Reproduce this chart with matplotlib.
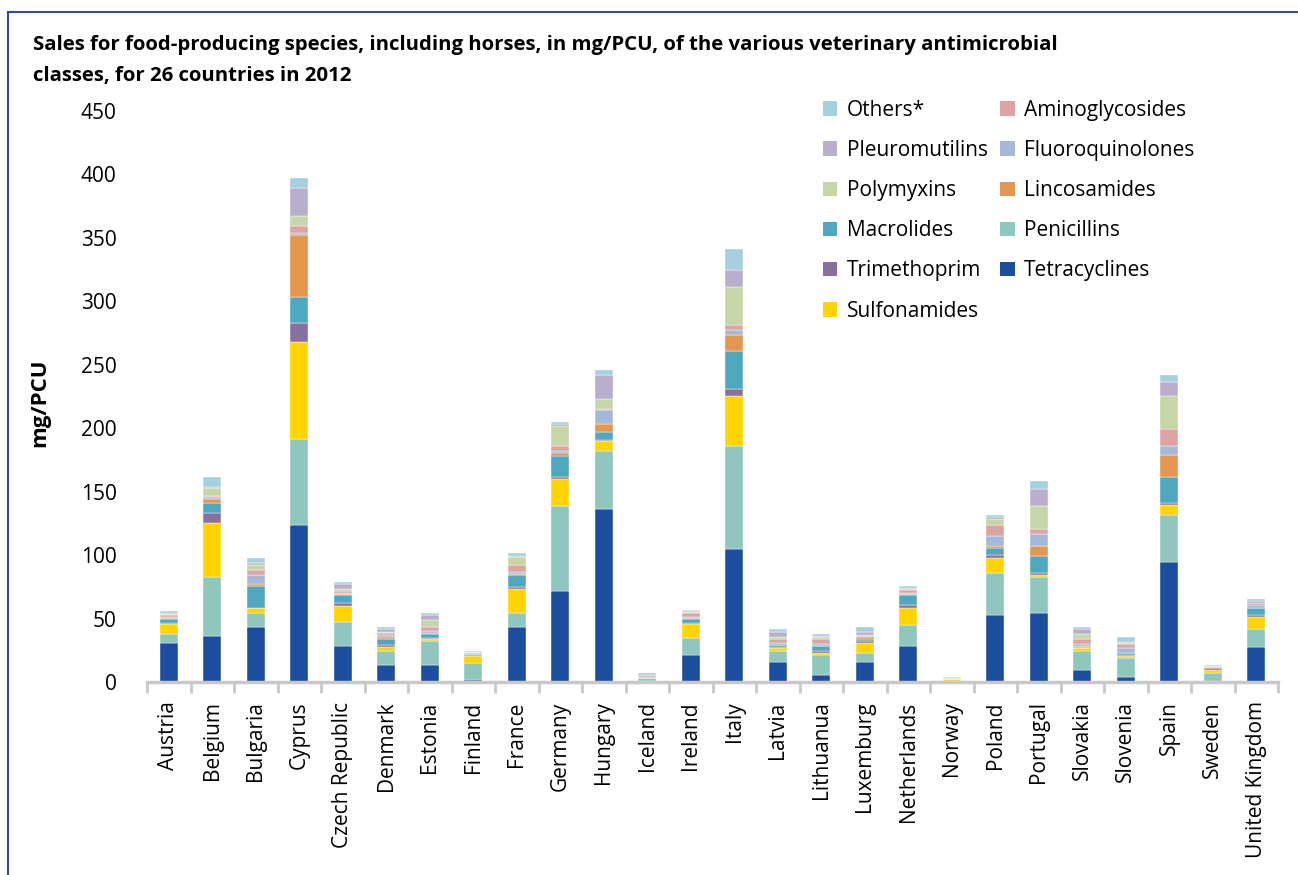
import numpy as np
import matplotlib.pyplot as plt
from matplotlib.patches import Patch
from matplotlib.lines import Line2D

plt.rcParams['font.family'] = ['Open Sans', 'DejaVu Sans']

countries = ['Austria', 'Belgium', 'Bulgaria', 'Cyprus', 'Czech Republic', 'Denmark',
             'Estonia', 'Finland', 'France', 'Germany', 'Hungary', 'Iceland', 'Ireland',
             'Italy', 'Latvia', 'Lithuanua', 'Luxemburg', 'Netherlands', 'Norway',
             'Poland', 'Portugal', 'Slovakia', 'Slovenia', 'Spain', 'Sweden',
             'United Kingdom']

# mg/PCU per class, one value per country (stacked bottom to top)
tetracyclines = [30.5, 36, 43.4, 123.9, 28.4, 13.3, 13.3, 1.9, 43.2, 71.6, 136.7, 0.5, 21.4,
                 105, 15.5, 5.9, 15.5, 28.3, 0.2, 52.8, 54.4, 9.5, 3.7, 94.2, 0.5, 27.9]
penicillins = [7.5, 46.7, 11.2, 67.6, 18.8, 11.1, 19.1, 13.2, 11.2, 67.4, 45.6, 2.5, 12.9,
               81, 9, 15.4, 7.2, 17, 0.3, 33.4, 28.4, 14.9, 15.1, 37.4, 6.7, 13.5]
sulfonamides = [8, 42.8, 3.8, 76.4, 12.8, 3.5, 1.6, 5.6, 19.1, 21, 7.5, 0.3, 11.3,
                39.2, 2.2, 1.7, 8, 13.4, 1.6, 11.7, 1.8, 2.1, 1.9, 7.7, 2.3, 9.5]
trimethoprim = [0.5, 7.5, 0.3, 15.1, 2.2, 1.3, 0.5, 0.3, 1.5, 1.8, 0.8, 0.1, 0.8,
                5.4, 0.5, 1.3, 1.8, 1.6, 0.2, 1.8, 1.6, 0.5, 0.5, 1.8, 1.6, 1.9]
macrolides = [3, 7.8, 16.9, 20.4, 6.0, 4.5, 3.4, 1.3, 9.4, 16.7, 6.4, 0.3, 3.2,
              30.3, 1.6, 4.0, 1.1, 8.2, 0.1, 5.6, 13.3, 0.9, 1.3, 20.7, 0.3, 5.3]
lincosamides = [1.2, 3.8, 1.9, 48.8, 0.8, 2.1, 0.5, 0.1, 0.6, 1.9, 6.0, 0.1, 0.5,
                12.8, 0.5, 0.3, 1.9, 0.8, 0.0, 1.6, 7.4, 0.5, 0.2, 17, 0.1, 0.6]
fluoroquinolones = [0.8, 1.4, 7.1, 2.0, 1.0, 1.3, 1.4, 0.8, 1.5, 1.3, 11.0, 0.3, 1.4,
                    4.0, 1.4, 1.4, 0.6, 1.0, 0.3, 8.0, 9.5, 1.8, 3.8, 7.4, 0.5, 1.8]
aminoglycosides = [1.5, 0.5, 3.8, 5.4, 1.5, 1.4, 3.4, 0.5, 5.5, 4.5, 1.5, 1.5, 3.2,
                   3.8, 3.3, 4.0, 0.6, 2.0, 0.3, 9.2, 3.8, 3.5, 3.7, 13.3, 0.3, 1.5]
polymyxins = [0.5, 6.3, 3.8, 7.4, 1.6, 1.0, 5.8, 0.0, 6.5, 15.4, 7.8, 0.0, 0.5,
              30, 1.7, 1.7, 0.6, 0.8, 0.0, 4.0, 18.8, 4.0, 0.6, 26, 0.0, 0.6]
pleuromutilins = [0.5, 0.8, 1.9, 22.6, 3.9, 2.4, 3.8, 0.2, 1.0, 1.8, 18.5, 0.2, 0.5,
                  12.9, 3.8, 0.8, 2.2, 0.8, 0.0, 1.9, 13.3, 3.7, 0.6, 11.1, 0.0, 1.3]
others = [2.0, 7.9, 3.6, 7.4, 2.0, 1.6, 1.8, 0.8, 2.1, 1.4, 4.2, 1.2, 1.1,
          17.2, 2.1, 1.4, 4.0, 2.0, 1.2, 1.8, 6.1, 1.8, 4.4, 5.4, 1.2, 1.9]

classes = ['Tetracyclines', 'Penicillins', 'Sulfonamides', 'Trimethoprim', 'Macrolides',
           'Lincosamides', 'Fluoroquinolones', 'Aminoglycosides', 'Polymyxins',
           'Pleuromutilins', 'Others*']
series = [tetracyclines, penicillins, sulfonamides, trimethoprim, macrolides, lincosamides,
          fluoroquinolones, aminoglycosides, polymyxins, pleuromutilins, others]
colors = ['#1c4d9e', '#8fc6bd', '#ffd400', '#8870a0', '#50a8c0', '#e3974f',
          '#a4b8d8', '#dca5a3', '#c6d6a7', '#b9afcc', '#a6cfdf']

fig = plt.figure(figsize=(12.98, 8.75), dpi=100)
ax = fig.add_axes([147 / 1298, 1 - 682 / 875, (1278 - 147) / 1298, (682 - 111) / 875])

x = np.arange(len(countries))
bottom = np.zeros(len(countries))
for vals, col, name in zip(series, colors, classes):
    ax.bar(x, vals, width=0.42, bottom=bottom, color=col, edgecolor='white',
           linewidth=0.3, label=name)
    bottom += np.array(vals)

ax.set_xlim(-0.5, len(countries) - 0.5)
ax.set_ylim(0, 450)
ax.set_yticks(np.arange(0, 451, 50))
ax.tick_params(axis='y', length=0, labelsize=15, pad=22)
ax.set_xticks(x)
ax.set_xticklabels(countries, rotation=90, fontsize=15)
ax.tick_params(axis='x', which='major', length=0, pad=14)
ax.set_xticks(np.arange(-0.5, len(countries), 1), minor=True)
ax.tick_params(axis='x', which='minor', length=8, width=2, color='#c8c8c8')
for s in ['top', 'right', 'left']:
    ax.spines[s].set_visible(False)
ax.spines['bottom'].set_color('#c8c8c8')
ax.spines['bottom'].set_linewidth(2.5)

fig.text(40 / 1298, 1 - 403 / 875, 'mg/PCU', rotation=90, fontsize=16,
         fontweight='bold', ha='center', va='center')
fig.text(33 / 1298, 1 - 45 / 875,
         'Sales for food-producing species, including horses, in mg/PCU, of the various veterinary antimicrobial',
         fontsize=14.7, fontweight='bold', ha='left', va='center')
fig.text(33 / 1298, 1 - 76 / 875, 'classes, for 26 countries in 2012',
         fontsize=14.7, fontweight='bold', ha='left', va='center')

# legend: column 1 then column 2
order = [10, 9, 8, 4, 3, 2, 7, 6, 5, 1, 0]
handles = [Patch(facecolor=colors[i], edgecolor='none') for i in order]
labels = [classes[i] for i in order]
fig.legend(handles, labels, ncol=2, frameon=False, fontsize=15,
           loc='upper left', bbox_to_anchor=(804 / 1298, 1 - 81 / 875),
           handlelength=0.7, handleheight=0.7, handletextpad=0.45,
           labelspacing=0.92, columnspacing=0.6)

# frame lines of the figure box
fig.add_artist(Line2D([8 / 1298, 1], [1 - 12 / 875, 1 - 12 / 875], color='#3b4a96', lw=1.5))
fig.add_artist(Line2D([8 / 1298, 8 / 1298], [0, 1 - 12 / 875], color='#3b4a96', lw=1.5))

fig.savefig('out.png', dpi=100)
